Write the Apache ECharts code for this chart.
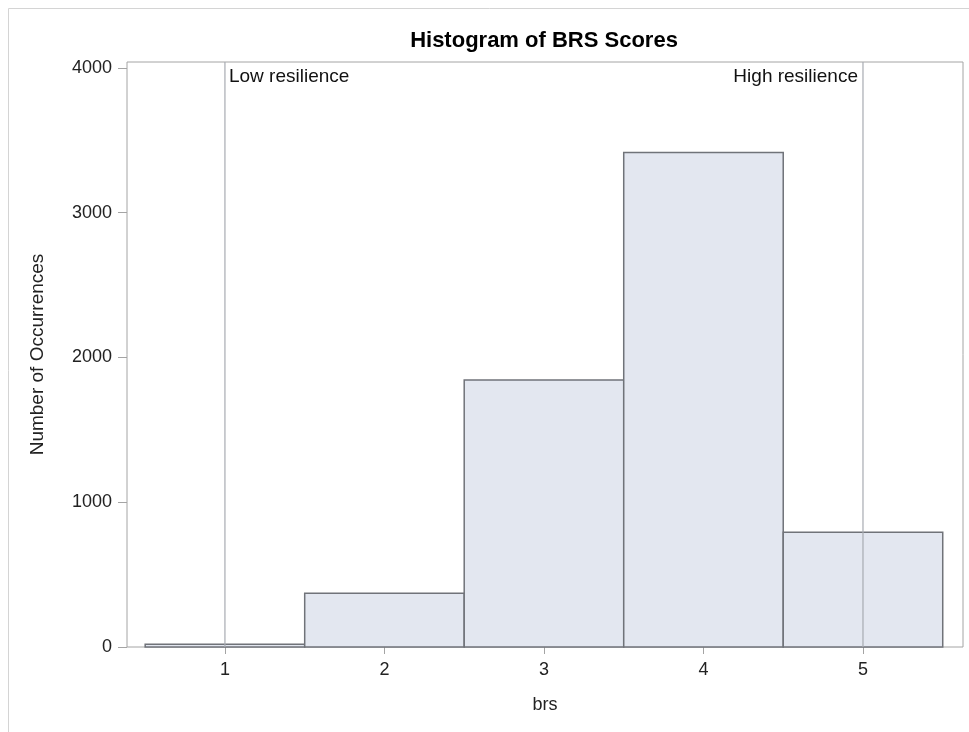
<!DOCTYPE html>
<html>
<head>
<meta charset="utf-8">
<script src="https://cdn.jsdelivr.net/npm/echarts@6/dist/echarts.min.js"></script>
<style>
  html, body { margin: 0; padding: 0; background: #fff; }
  #main { width: 969px; height: 732px; }
</style>
</head>
<body>
<div id="main"></div>
<script>
// histogram bins (brs score) and counts
const binStart = [0.5, 1.5, 2.5, 3.5, 4.5];
const binEnd = [1.5, 2.5, 3.5, 4.5, 5.5];
const counts = [19, 371, 1845, 3415, 792];

const xTicks = [1, 2, 3, 4, 5];
const yTicks = [0, 1000, 2000, 3000, 4000];

// reference lines
const refX = [1, 5];
const refText = ["Low resilience", "High resilience"];
const refSide = ["right", "left"];

const chart = echarts.init(document.getElementById("main"));

const fontFam = "'Liberation Sans', Arial, sans-serif";

chart.setOption({
  animation: false,
  backgroundColor: "#fff",
  graphic: [
    {
      type: "rect",
      left: 6,
      top: 6,
      shape: { width: 980, height: 740 },
      style: { fill: "none", stroke: "#d4d4d4", lineWidth: 1 },
      silent: true,
      z: -10,
    },
  ],
  title: {
    text: "Histogram of BRS Scores",
    left: 539,
    top: 25,
    textAlign: "center",
    textStyle: {
      fontFamily: fontFam,
      fontSize: 22,
      fontWeight: "bold",
      color: "#000",
    },
  },
  grid: {
    left: 127,
    right: 6,
    top: 62,
    bottom: 85,
    show: true,
    borderColor: "#a4a4a4",
    borderWidth: 1,
  },
  xAxis: {
    type: "value",
    min: 0.386,
    max: 5.627,
    name: "brs",
    nameLocation: "middle",
    nameGap: 49,
    nameTextStyle: { fontFamily: fontFam, fontSize: 18, color: "#222" },
    axisLine: { show: false },
    splitLine: { show: false },
    axisTick: {
      show: true,
      length: 7,
      customValues: xTicks,
      lineStyle: { color: "#a4a4a4" },
    },
    axisLabel: {
      customValues: xTicks,
      margin: 14,
      fontFamily: fontFam,
      fontSize: 18,
      color: "#222",
    },
  },
  yAxis: {
    type: "value",
    min: 0,
    max: 4041,
    name: "Number of Occurrences",
    nameLocation: "middle",
    nameGap: 80,
    nameTextStyle: { fontFamily: fontFam, fontSize: 19, color: "#222" },
    axisLine: { show: false },
    splitLine: { show: false },
    axisTick: {
      show: true,
      length: 9,
      customValues: yTicks,
      lineStyle: { color: "#a4a4a4" },
    },
    axisLabel: {
      customValues: yTicks,
      margin: 15,
      fontFamily: fontFam,
      fontSize: 18,
      color: "#222",
      formatter: (v) => String(v),
    },
  },
  series: [
    {
      type: "custom",
      name: "bins",
      data: counts.map((c, i) => [binStart[i], binEnd[i], c]),
      encode: { x: [0, 1], y: 2 },
      renderItem: function (params, api) {
        const p0 = api.coord([api.value(0), api.value(2)]);
        const p1 = api.coord([api.value(1), 0]);
        return {
          type: "rect",
          shape: { x: p0[0], y: p0[1], width: p1[0] - p0[0], height: p1[1] - p0[1] },
          style: { fill: "#e3e7f0", stroke: "#707379", lineWidth: 1.5 },
        };
      },
      z: 2,
    },
    {
      type: "custom",
      name: "refs",
      data: refX.map((x, i) => [x, i]),
      encode: { x: 0 },
      renderItem: function (params, api) {
        const cs = params.coordSys;
        const idx = api.value(1);
        const px = api.coord([api.value(0), 0])[0];
        const right = refSide[idx] === "right";
        return {
          type: "group",
          children: [
            {
              type: "line",
              shape: { x1: px, y1: cs.y, x2: px, y2: cs.y + cs.height },
              style: { stroke: "#a8abb2", lineWidth: 1.2 },
            },
            {
              type: "text",
              style: {
                x: right ? px + 4 : px - 5,
                y: cs.y + 5,
                text: refText[idx],
                textAlign: right ? "left" : "right",
                textVerticalAlign: "top",
                fontFamily: fontFam,
                fontSize: 19,
                fill: "#111",
              },
            },
          ],
        };
      },
      z: 3,
    },
  ],
});
</script>
</body>
</html>
